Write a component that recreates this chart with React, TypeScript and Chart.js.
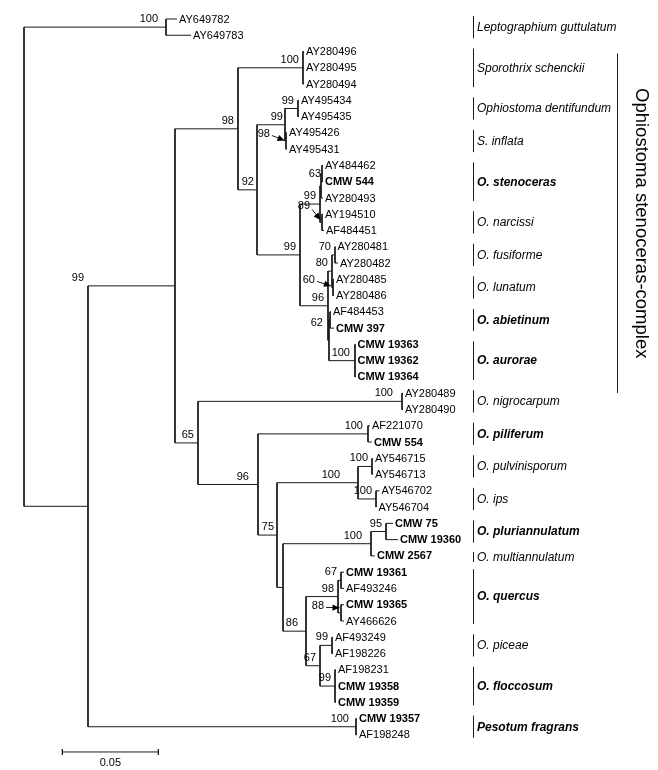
import React, { useEffect, useRef } from "react";
import { Chart, registerables } from "chart.js";

Chart.register(...registerables);

// ---------------- DATA ----------------
// Tree nodes in pre-order (parents before children, children top to bottom).
const nodeNames: string[] = [
  "root", "L", "AY649782", "AY649783",
  "A", "B", "C", "S", "AY280496", "AY280495", "AY280494",
  "D", "E", "G", "AY495434", "AY495435", "H", "AY495426", "AY495431",
  "F", "I", "W", "V", "AY484462", "CMW 544", "AY280493", "X", "AY194510", "AF484451",
  "J", "K", "Q", "AY280481", "AY280482", "U", "AY280485", "AY280486",
  "M", "N", "AF484453", "CMW 397", "O", "CMW 19363", "CMW 19362", "CMW 19364",
  "G65", "NG", "AY280489", "AY280490", "N96", "PF", "AF221070", "CMW 554",
  "N75", "PI", "PV", "AY546715", "AY546713", "IP", "AY546702", "AY546704",
  "N283", "PM", "N95", "CMW 75", "CMW 19360", "CMW 2567",
  "N86", "Q98", "N67a", "CMW 19361", "AF493246", "N88", "CMW 19365", "AY466626",
  "N67", "PC", "AF493249", "AF198226", "FL", "AF198231", "CMW 19358", "CMW 19359",
  "P", "CMW 19357", "AF198248",
];

const nodeParents: (string | null)[] = [
  null, "root", "L", "L",
  "root", "A", "B", "C", "S", "S", "S",
  "C", "D", "E", "G", "G", "E", "H", "H",
  "D", "F", "I", "W", "V", "V", "W", "I", "X", "X",
  "F", "J", "K", "Q", "Q", "K", "U", "U",
  "J", "M", "N", "N", "M", "O", "O", "O",
  "B", "G65", "NG", "NG", "G65", "N96", "PF", "PF",
  "N96", "N75", "PI", "PV", "PV", "PI", "IP", "IP",
  "N75", "N283", "PM", "N95", "N95", "PM",
  "N283", "N86", "Q98", "N67a", "N67a", "Q98", "N88", "N88",
  "N86", "N67", "PC", "PC", "N67", "FL", "FL", "FL",
  "A", "P", "P",
];

// branch lengths (substitutions per site)
const branchLengths: number[] = [
  0, 0.07396, 0.00573, 0.01302,
  0.03333, 0.04531, 0.03281, 0.03385, 0.00052, 0.00052, 0.00052,
  0.0099, 0.01458, 0.00677, 0.00052, 0.00052, 0.00052, 0.00052, 0.00052,
  0.0224, 0.01042, 0.00052, 0.00052, 0.00052, 0.00052, 0.00104, 0.00104, 0.00052, 0.00104,
  0.01458, 0.00208, 0.00156, 0.00026, 0.00156, 0.00052, 0.00052, 0.00052,
  0.00052, 0.00052, 0.00052, 0.00208, 0.01354, 0.00026, 0.00026, 0.00026,
  0.01198, 0.10625, 0.00052, 0.00052, 0.03125, 0.05729, 0.00104, 0.00208,
  0.0099, 0.04219, 0.00729, 0.00052, 0.00052, 0.00938, 0.00182, 0.00026,
  0.00313, 0.04583, 0.00781, 0.00365, 0.00625, 0.00208,
  0.01198, 0.01667, 0.00156, 0.00156, 0.00156, 0.00156, 0.00156, 0.00156,
  0.00729, 0.00625, 0.00052, 0.00052, 0.00781, 0.00052, 0.00052, 0.00052,
  0.13958, 0.00052, 0.00052,
];

const bootstrapValues: (number | null)[] = [
  null, 100, null, null,
  99, null, 98, 100, null, null, null,
  92, 99, 99, null, null, 98, null, null,
  99, 99, null, 63, null, null, null, 89, null, null,
  96, 80, 70, null, null, 60, null, null,
  null, 62, null, null, 100, null, null, null,
  65, 100, null, null, 96, 100, null, null,
  75, 100, 100, null, null, 100, null, null,
  null, 100, 95, null, null, null,
  86, 98, 67, null, null, 88, null, null,
  67, 99, null, null, 99, null, null, null,
  100, null, null,
];

const cladeNames: string[] = [
  "Leptographium guttulatum", "Sporothrix schenckii", "Ophiostoma dentifundum", "S. inflata",
  "O. stenoceras", "O. narcissi", "O. fusiforme", "O. lunatum", "O. abietinum", "O. aurorae",
  "O. nigrocarpum", "O. piliferum", "O. pulvinisporum", "O. ips", "O. pluriannulatum",
  "O. multiannulatum", "O. quercus", "O. piceae", "O. floccosum", "Pesotum fragrans",
];
const cladeFirstLeaf: string[] = [
  "AY649782", "AY280496", "AY495434", "AY495426", "AY484462", "AY194510", "AY280481", "AY280485",
  "AF484453", "CMW 19363", "AY280489", "AF221070", "AY546715", "AY546702", "CMW 75", "CMW 2567",
  "CMW 19361", "AF493249", "AF198231", "CMW 19357",
];
const cladeLastLeaf: string[] = [
  "AY649783", "AY280494", "AY495435", "AY495431", "AY280493", "AF484451", "AY280482", "AY280486",
  "CMW 397", "CMW 19364", "AY280490", "CMW 554", "AY546713", "AY546704", "CMW 19360", "CMW 2567",
  "AY466626", "AF198226", "CMW 19359", "AF198248",
];
const cladeBold: boolean[] = [
  false, false, false, false, true, false, false, false, true, true,
  false, true, false, false, true, false, true, false, true, true,
];

const complexName = "Ophiostoma stenoceras-complex";
const complexFirstLeaf = "AY280496";
const complexLastLeaf = "CMW 19364";

const scaleBarLength = 0.05;
const scaleBarLabel = "0.05";

// ---------------- LAYOUT / STYLE ----------------
const W = 658;
const H = 770;
const PX_PER_UNIT = 1920;
const ROOT_PX = 24;
const ROW0_PX = 19;
const ROW_PX = 16.27;
const X_MIN = -ROOT_PX / PX_PER_UNIT;
const X_MAX = (W - ROOT_PX) / PX_PER_UNIT;
const Y_MIN = -ROW0_PX / ROW_PX;
const Y_MAX = (H - ROW0_PX) / ROW_PX;
const SCALE_START = 0.02;
const CLADE_BAR_X = 473;
const COMPLEX_BAR_X = 617;
const COMPLEX_TEXT_X = 641;
const FONT = "Arial, 'Liberation Sans', Helvetica, sans-serif";
const LINE_COLOR = "#1a1a1a";

const labelTweaks: Record<string, { dx?: number; dy?: number; atFirstChild?: boolean }> = {
  L: { dx: -8 },
  A: { atFirstChild: true },
  V: { dx: -1, dy: 0 },
  N: { dx: -7, dy: 3 },
  PI: { dx: -18 },
  N96: { dx: -9 },
  N86: { dx: -8 },
  NG: { dx: -9 },
  PM: { dx: -9 },
  P: { dx: -7 },
  PF: { dx: -5 },
  O: { dx: -5 },
  N75: { dx: -3 },
  D: { dx: -3 },
  E: { dx: -2 },
};

const arrowTweaks: Record<string, { label: number[]; from: number[]; to: number[] }> = {
  H: { label: [-16, -7.5], from: [-14, -5.5], to: [-1.5, -0.5] },
  X: { label: [-12, -16], from: [-10, -13], to: [-1.5, -2.5] },
  U: { label: [-18, -7.5], from: [-16, -6], to: [-2, -1.5] },
  N88: { label: [-17, -6.5], from: [-15, -5.5], to: [-1.5, -5] },
};

// ---------------- TREE BUILD ----------------
function buildTree() {
  const n = nodeNames.length;
  const index = new Map<string, number>();
  nodeNames.forEach((nm, i) => index.set(nm, i));
  const parent = nodeParents.map((p) => (p === null ? -1 : (index.get(p) as number)));
  const children: number[][] = nodeNames.map(() => []);
  const depth: number[] = new Array(n).fill(0);
  for (let i = 0; i < n; i++) {
    if (parent[i] >= 0) {
      children[parent[i]].push(i);
      depth[i] = depth[parent[i]] + branchLengths[i];
    }
  }
  const leaves: number[] = [];
  const row: number[] = new Array(n).fill(0);
  for (let i = 0; i < n; i++) {
    if (children[i].length === 0) {
      row[i] = leaves.length;
      leaves.push(i);
    }
  }
  for (let i = n - 1; i >= 0; i--) {
    const c = children[i];
    if (c.length) row[i] = (row[c[0]] + row[c[c.length - 1]]) / 2;
  }
  return { index, parent, children, depth, row, leaves };
}

const tree = buildTree();

function buildSegments() {
  const segs: { x: number | null; y: number | null }[] = [];
  const gap = () => ({ x: null, y: null });
  const { parent, children, depth, row } = tree;
  for (let i = 0; i < nodeNames.length; i++) {
    if (parent[i] >= 0) {
      segs.push({ x: depth[parent[i]], y: row[i] }, { x: depth[i], y: row[i] }, gap());
    }
    const c = children[i];
    if (c.length) {
      segs.push({ x: depth[i], y: row[c[0]] }, { x: depth[i], y: row[c[c.length - 1]] }, gap());
    }
  }
  // scale bar
  const sy = tree.leaves.length + 0.05;
  const t = 0.18;
  segs.push({ x: SCALE_START, y: sy }, { x: SCALE_START + scaleBarLength, y: sy }, gap());
  segs.push({ x: SCALE_START, y: sy - t }, { x: SCALE_START, y: sy + t }, gap());
  segs.push({ x: SCALE_START + scaleBarLength, y: sy - t }, { x: SCALE_START + scaleBarLength, y: sy + t }, gap());
  return segs;
}

function arrowHead(ctx: CanvasRenderingContext2D, fx: number, fy: number, tx: number, ty: number) {
  const ang = Math.atan2(ty - fy, tx - fx);
  const len = 7;
  const hw = 3.2;
  const bx = tx - len * Math.cos(ang);
  const by = ty - len * Math.sin(ang);
  ctx.beginPath();
  ctx.moveTo(tx, ty);
  ctx.lineTo(bx + hw * Math.sin(ang), by - hw * Math.cos(ang));
  ctx.lineTo(bx - hw * Math.sin(ang), by + hw * Math.cos(ang));
  ctx.closePath();
  ctx.fill();
}

const treeTextPlugin = {
  id: "treeText",
  afterDatasetsDraw(chart: any) {
    const ctx: CanvasRenderingContext2D = chart.ctx;
    const xs = chart.scales.x;
    const ys = chart.scales.y;
    const left = chart.chartArea.left;
    const px = (v: number) => xs.getPixelForValue(v);
    const py = (v: number) => ys.getPixelForValue(v);
    const { children, depth, row, leaves, index } = tree;

    ctx.save();
    ctx.fillStyle = "#000";
    ctx.strokeStyle = LINE_COLOR;
    ctx.lineWidth = 1;

    // leaf labels
    ctx.textAlign = "left";
    ctx.textBaseline = "middle";
    for (const i of leaves) {
      const name = nodeNames[i];
      const bold = name.startsWith("CMW");
      ctx.font = `${bold ? "bold " : ""}11px ${FONT}`;
      ctx.fillText(name, px(depth[i]) + 2, py(row[i]) + 0.5);
    }

    // bootstrap labels
    ctx.font = `11px ${FONT}`;
    for (let i = 0; i < nodeNames.length; i++) {
      const bs = bootstrapValues[i];
      if (bs === null || bs === undefined) continue;
      const name = nodeNames[i];
      const nx = px(depth[i]);
      let ny = py(row[i]);
      const arrow = arrowTweaks[name];
      if (arrow) {
        ctx.textAlign = "right";
        ctx.textBaseline = "middle";
        ctx.fillText(String(bs), nx + arrow.label[0], ny + arrow.label[1]);
        const fx = nx + arrow.from[0];
        const fy = ny + arrow.from[1];
        const tx = nx + arrow.to[0];
        const ty = ny + arrow.to[1];
        ctx.beginPath();
        ctx.moveTo(fx, fy);
        ctx.lineTo(tx, ty);
        ctx.stroke();
        ctx.fillStyle = "#000";
        arrowHead(ctx, fx, fy, tx, ty);
        continue;
      }
      const tw = labelTweaks[name] || {};
      if (tw.atFirstChild) ny = py(row[children[i][0]]);
      const dx = tw.dx !== undefined ? tw.dx : -4;
      const dy = tw.dy !== undefined ? tw.dy : -8;
      ctx.textAlign = "right";
      ctx.textBaseline = "middle";
      ctx.fillText(String(bs), nx + dx, ny + dy);
    }

    // clade bars and names
    ctx.textAlign = "left";
    ctx.textBaseline = "middle";
    for (let c = 0; c < cladeNames.length; c++) {
      const r1 = row[index.get(cladeFirstLeaf[c]) as number];
      const r2 = row[index.get(cladeLastLeaf[c]) as number];
      const single = r1 === r2;
      const top = py(r1) - (single ? 4 : 3);
      const bot = py(r2) + (single ? 6 : 3);
      const bx = left + CLADE_BAR_X + 0.5;
      ctx.beginPath();
      ctx.moveTo(bx, top);
      ctx.lineTo(bx, bot);
      ctx.stroke();
      ctx.font = `italic ${cladeBold[c] ? "bold " : ""}12px ${FONT}`;
      ctx.fillText(cladeNames[c], bx + 3.5, (top + bot) / 2 + 0.5);
    }

    // complex bar and rotated name
    const cTop = py(row[index.get(complexFirstLeaf) as number]) + 2;
    const cBot = py(row[index.get(complexLastLeaf) as number]) + 16;
    const cx = left + COMPLEX_BAR_X + 0.5;
    ctx.beginPath();
    ctx.moveTo(cx, cTop);
    ctx.lineTo(cx, cBot);
    ctx.stroke();
    ctx.save();
    ctx.translate(left + COMPLEX_TEXT_X, (cTop + cBot) / 2);
    ctx.rotate(Math.PI / 2);
    ctx.textAlign = "center";
    ctx.textBaseline = "middle";
    ctx.font = `18.5px ${FONT}`;
    ctx.fillText(complexName, 0, 0);
    ctx.restore();

    // scale bar label
    const sx1 = px(SCALE_START);
    const sx2 = px(SCALE_START + scaleBarLength);
    const sy = py(leaves.length + 0.05);
    ctx.textAlign = "center";
    ctx.textBaseline = "middle";
    ctx.font = `11px ${FONT}`;
    ctx.fillText(scaleBarLabel, (sx1 + sx2) / 2, sy + 11);

    ctx.restore();
  },
};

export default function App() {
  const ref = useRef<HTMLCanvasElement | null>(null);
  useEffect(() => {
    if (!ref.current) return;
    const chart = new Chart(ref.current, {
      type: "scatter",
      data: {
        datasets: [
          {
            data: buildSegments() as any,
            showLine: true,
            borderColor: LINE_COLOR,
            borderWidth: 1,
            pointRadius: 0,
            pointHoverRadius: 0,
            fill: false,
            tension: 0,
            spanGaps: false,
            clip: false as any,
          },
        ],
      },
      options: {
        responsive: false,
        animation: false,
        devicePixelRatio: 1,
        events: [],
        layout: { padding: 0, autoPadding: false } as any,
        plugins: { legend: { display: false }, tooltip: { enabled: false } },
        scales: {
          x: { type: "linear", min: X_MIN, max: X_MAX, display: false },
          y: { type: "linear", min: Y_MIN, max: Y_MAX, reverse: true, display: false },
        },
      },
      plugins: [treeTextPlugin],
    });
    return () => chart.destroy();
  }, []);
  return (
    <div style={{ position: "absolute", left: 0, top: 0, width: W, height: H, background: "#fff" }}>
      <canvas ref={ref} width={W} height={H} style={{ display: "block", width: W, height: H }} />
    </div>
  );
}
